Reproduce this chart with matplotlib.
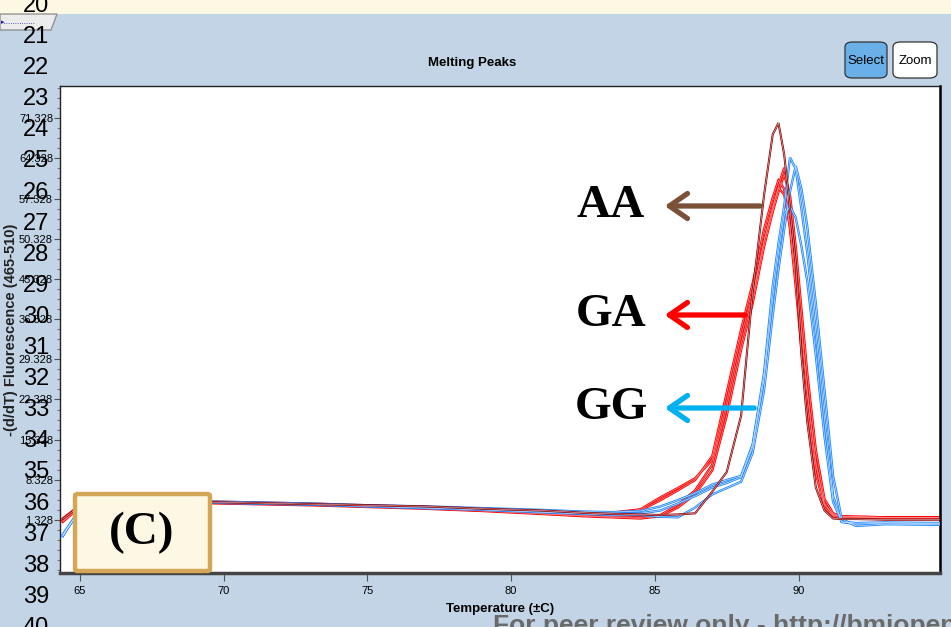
import matplotlib
matplotlib.use("Agg")
import matplotlib.pyplot as plt
from matplotlib import font_manager
from matplotlib.patches import FancyBboxPatch, Rectangle, Polygon, FancyArrowPatch

# ---------------- data ----------------
temps = [64.4, 65.2, 67.0, 69.0, 71.0, 73.0, 75.0, 77.0, 79.0, 81.0, 82.5, 83.5,
         84.5, 85.2, 85.8, 86.4, 87.0, 87.5, 88.0, 88.4, 88.8, 89.1, 89.3, 89.5,
         89.7, 89.9, 90.1, 90.3, 90.6, 90.9, 91.2, 91.5, 92.0, 93.0, 94.9]

aa_1 = [1.5, 4.6, 4.6, 4.5, 4.3, 4.1, 3.9, 3.7, 3.3, 3.0, 2.6, 2.4,
        2.3, 2.2, 2.3, 2.5, 6.3, 9.7, 19.5, 41.0, 58.0, 68.5, 70.5, 65.0,
        55.5, 46.0, 30.0, 18.5, 7.0, 3.0, 1.6, 1.5, 1.5, 1.4, 1.4]

ga_1 = [1.2, 4.8, 4.7, 4.6, 4.4, 4.2, 3.9, 3.6, 3.3, 2.9, 2.6, 2.6,
        3.2, 5.3, 6.9, 8.6, 11.8, 22.0, 33.5, 40.5, 50.0, 55.5, 59.5, 62.7,
        57.0, 46.0, 35.0, 24.0, 11.5, 4.0, 2.2, 1.8, 1.8, 1.7, 1.7]
ga_2 = [1.6, 4.7, 4.6, 4.5, 4.3, 4.1, 3.8, 3.5, 3.1, 2.7, 2.4, 2.4,
        3.0, 4.8, 6.5, 8.3, 12.5, 23.5, 34.5, 42.5, 52.0, 57.5, 60.5, 59.0,
        52.0, 42.0, 31.0, 21.0, 9.5, 3.5, 2.0, 1.6, 1.6, 1.5, 1.5]
ga_3 = [1.0, 4.5, 4.5, 4.4, 4.2, 4.0, 3.7, 3.4, 3.0, 2.5, 2.1, 1.9,
        1.8, 2.2, 4.0, 6.5, 11.0, 21.0, 32.0, 40.0, 50.0, 56.0, 59.2, 58.0,
        53.0, 44.0, 34.0, 23.5, 11.0, 4.2, 2.3, 1.9, 1.9, 1.8, 1.8]
ga_4 = [1.3, 4.4, 4.4, 4.3, 4.1, 3.9, 3.6, 3.3, 2.9, 2.4, 2.0, 1.8,
        1.6, 2.0, 3.5, 5.8, 10.0, 19.5, 31.0, 39.0, 49.0, 55.0, 58.5, 61.5,
        58.0, 49.0, 38.0, 27.0, 13.5, 5.0, 2.5, 2.0, 1.9, 1.8, 1.8]

gg_1 = [-1.5, 4.9, 4.8, 4.6, 4.4, 4.2, 3.9, 3.7, 3.4, 3.1, 2.8, 2.7,
        2.9, 3.7, 4.8, 6.0, 7.5, 8.3, 9.0, 14.5, 27.0, 42.0, 49.5, 56.0,
        64.5, 62.5, 55.5, 48.0, 34.0, 19.0, 5.5, 1.0, 0.6, 0.8, 0.7]
gg_2 = [-1.2, 4.6, 4.5, 4.4, 4.2, 4.0, 3.7, 3.4, 3.1, 2.7, 2.4, 2.2,
        2.2, 1.9, 1.8, 3.5, 5.8, 6.9, 8.0, 13.0, 24.0, 37.0, 45.0, 52.0,
        58.5, 63.0, 59.0, 52.5, 39.0, 24.0, 9.0, 1.5, 0.3, 0.6, 0.5]
gg_3 = [-1.4, 4.7, 4.7, 4.5, 4.3, 4.1, 3.8, 3.6, 3.3, 2.9, 2.6, 2.5,
        2.5, 3.0, 4.2, 5.5, 7.0, 7.8, 8.8, 14.0, 26.0, 40.0, 48.0, 54.5,
        56.0, 54.0, 49.0, 43.0, 30.0, 16.0, 4.5, 1.0, 0.8, 0.9, 0.8]

ytick_vals = [1.328, 8.328, 15.328, 22.328, 29.328, 36.328, 43.328, 50.328,
              57.328, 64.328, 71.328]
xtick_vals = [65, 70, 75, 80, 85, 90]
line_numbers = list(range(20, 41))
genotypes = ["AA", "GA", "GG"]

# ---------------- style ----------------
W, H = 951, 627
BG = "#c2d4e5"
fig = plt.figure(figsize=(W / 100, H / 100), dpi=100, facecolor=BG)

avail = {f.name for f in font_manager.fontManager.ttflist}
SERIF = "Liberation Serif" if "Liberation Serif" in avail else "DejaVu Serif"
SANS = "Liberation Sans" if "Liberation Sans" in avail else "DejaVu Sans"
NARROW = SANS


def fx(px):
    return px / W


def fy(py):
    return 1 - py / H


# top cream band
fig.patches.append(Rectangle((0, fy(14)), 1, 14 / H, transform=fig.transFigure,
                             facecolor="#fdf8e3", edgecolor="none", zorder=0))
# small tab
fig.patches.append(Polygon([(fx(0), fy(14)), (fx(57), fy(14)), (fx(51), fy(30)),
                            (fx(0), fy(30))], closed=True, transform=fig.transFigure,
                           facecolor="#ececec", edgecolor="#8a8a8a", lw=0.9, zorder=1))
fig.text(fx(1), fy(22), "\u25B8" + "." * 14, color="#1a1aa0", fontsize=5,
         va="center", ha="left", family=["DejaVu Sans"], zorder=2)

# axes
L, R, T, B = 60, 940, 86, 573
ax = fig.add_axes([fx(L), fy(B), fx(R) - fx(L), fy(T) - fy(B)])
ax.set_facecolor("white")
ax.set_xlim(64.304, 94.92)
ax.set_ylim(-7.9, 76.94)

red_curves = [ga_1, ga_2, ga_3, ga_4]
blue_curves = [gg_1, gg_2, gg_3]


def hollow(y, color, core, lw=1.7, clw=0.5, z=2):
    ax.plot(temps, y, color=color, lw=lw, solid_joinstyle="miter", zorder=z)
    ax.plot(temps, y, color=core, lw=clw, zorder=z + 0.1)


for y in red_curves:
    hollow(y, "#ff0000", "#ff9a9a", lw=1.7, clw=0.45, z=2)
for y in blue_curves:
    hollow(y, "#1a84ff", "#cfe4ff", lw=1.7, clw=0.5, z=3)
hollow(aa_1, "#8b0000", "#f0c8c8", lw=1.5, clw=0.4, z=4)

ax.set_xticks(xtick_vals)
ax.set_xticklabels([str(v) for v in xtick_vals], family=NARROW, fontsize=8)
ax.set_yticks(ytick_vals)
ax.set_yticklabels([f"{v:.3f}" for v in ytick_vals], family=NARROW, fontsize=8)
minor = []
for v in ytick_vals:
    for k in range(1, 4):
        mv = v + 1.75 * k
        if mv < 76.9:
            minor.append(mv)
for k in range(1, 6):
    mv = 1.328 - 1.75 * k
    if mv > -7.9:
        minor.append(mv)
ax.set_yticks(minor, minor=True)
ax.tick_params(axis="x", direction="out", length=6, width=0.8, color="#555555",
               pad=3, labelcolor="black")
ax.tick_params(axis="y", which="major", direction="out", length=4, width=0.8,
               color="#555555", pad=1)
ax.tick_params(axis="y", which="minor", direction="out", length=2, width=0.8,
               color="#777777")
for s in ["left", "top"]:
    ax.spines[s].set_linewidth(1.0)
    ax.spines[s].set_color("#222222")
ax.spines["right"].set_linewidth(1.8)
ax.spines["right"].set_color("black")
ax.spines["bottom"].set_linewidth(2.5)
ax.spines["bottom"].set_color("#444444")

# axis labels & title
fig.text(fx(500), fy(609), "Temperature (\u00b1C)", family=NARROW, fontsize=9.5,
         fontweight="bold", ha="center", va="center")
fig.text(fx(11), fy(330), "-(d/dT) Fluorescence (465-510)", family=SANS,
         fontsize=10.5, fontweight="bold", rotation=90, ha="center", va="center",
         color="#222222")
fig.text(fx(472), fy(63), "Melting Peaks", family=NARROW, fontsize=9.5,
         fontweight="bold", ha="center", va="center")

# buttons
for (x0, x1, fc, label) in [(845, 887, "#6aafe8", "Select"), (893, 937, "white", "Zoom")]:
    fig.patches.append(FancyBboxPatch((fx(x0), fy(78)), fx(x1) - fx(x0), 36 / H,
                                      boxstyle="round,pad=0,rounding_size=0.008",
                                      transform=fig.transFigure, facecolor=fc,
                                      edgecolor="#333333", lw=0.9, zorder=1))
    fig.text(fx((x0 + x1) / 2), fy(61), label, family=NARROW, fontsize=9.5,
             ha="center", va="center", zorder=2)

# line numbers (page overlay)
for n in line_numbers:
    fig.text(fx(36), fy(37 + (n - 21) * 31.1), str(n), family=SANS, fontsize=17,
             ha="center", va="center", color="black", zorder=5)

# genotype annotations with arrows
ann = [("AA", 206, 763, "#7b5038"), ("GA", 315, 748, "#ff0000"),
       ("GG", 408, 757, "#00b0f0")]
for (lab, py, xstart, col) in ann:
    fig.text(fx(611), fy(py), lab, family=SERIF, fontsize=34, fontweight="bold",
             ha="center", va="center", zorder=6)
    fig.add_artist(FancyArrowPatch(
        (fx(xstart), fy(py)), (fx(662), fy(py)), transform=fig.transFigure,
        arrowstyle="->,head_length=1.3,head_width=0.9", color=col, lw=3.8,
        capstyle="round", joinstyle="round", mutation_scale=10, zorder=6))

# (C) label box
fig.patches.append(FancyBboxPatch((fx(75), fy(571)), fx(210) - fx(75), 77 / H,
                                  boxstyle="round,pad=0,rounding_size=0.003",
                                  transform=fig.transFigure, facecolor="#fdf8e3",
                                  edgecolor="#d4a657", lw=3.2, zorder=6))
fig.text(fx(142), fy(533), "(C)", family=SERIF, fontsize=34, fontweight="bold",
         ha="center", va="center", zorder=7)

# watermark footer
fig.text(fx(493), fy(614), "For peer review only - http://bmjopen.bmj.com/site/about/guidelines.xhtml",
         family=SANS, fontsize=19, fontweight="bold", color="#6a6a6a",
         ha="left", va="top", zorder=7)

fig.savefig("out.png", dpi=100, facecolor=BG)
